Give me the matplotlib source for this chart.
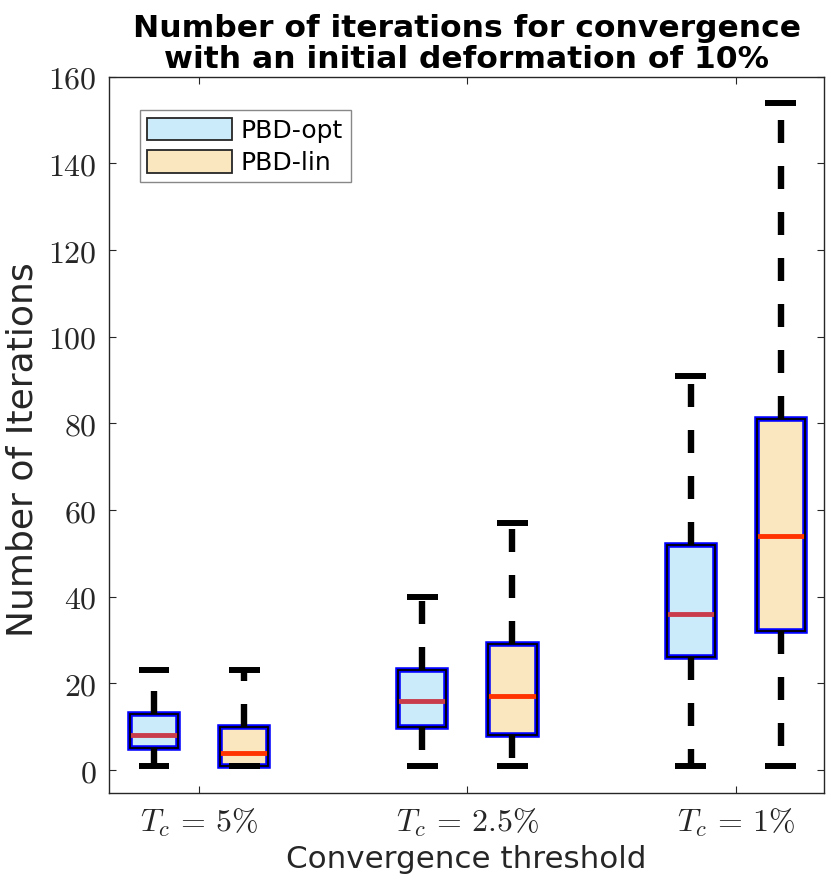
import matplotlib
matplotlib.use('Agg')
import matplotlib.pyplot as plt
from matplotlib.patches import Rectangle, Patch
from matplotlib.ticker import FuncFormatter

plt.rcParams['mathtext.fontset'] = 'cm'
plt.rcParams['font.family'] = ['DejaVu Sans']

group_labels = [r'$T_c \,=\, 5\%$', r'$T_c \,=\, 2.5\%$', r'$T_c \,=\, 1\%$']
method_names = ['PBD-opt', 'PBD-lin']

# PBD-opt: lower whisker, q1, median, q3, upper whisker per threshold
opt_low = [1, 1, 1]
opt_q1 = [5, 10, 26]
opt_med = [8, 16, 36]
opt_q3 = [13, 23, 52]
opt_high = [23, 40, 91]

# PBD-lin
lin_low = [1, 1, 1]
lin_q1 = [1, 8, 32]
lin_med = [4, 17, 54]
lin_q3 = [10, 29, 81]
lin_high = [23, 57, 154]

y_ticks = [0, 20, 40, 60, 80, 100, 120, 140, 160]

fill_colors = ['#CBEAFA', '#FAE6BF']
median_colors = ['#C83C4B', '#FF3300']
edge_blue = '#0000FF'
axis_gray = '#262626'

fig = plt.figure(figsize=(8.31, 8.93), dpi=100)
ax = fig.add_axes([0.131, 0.112, 0.861, 0.802])

groups = [1, 2, 3]
offset = 0.168
box_w = 0.18

series = [
    (opt_low, opt_q1, opt_med, opt_q3, opt_high),
    (lin_low, lin_q1, lin_med, lin_q3, lin_high),
]

for k, (lo, q1, med, q3, hi) in enumerate(series):
    pos = [g + (2 * k - 1) * offset for g in groups]
    stats = []
    for i in range(len(groups)):
        stats.append(dict(whislo=lo[i], q1=q1[i], med=med[i], q3=q3[i],
                          whishi=hi[i], fliers=[]))
    ax.bxp(stats, positions=pos, widths=box_w, capwidths=0.115,
           patch_artist=True, showfliers=False, manage_ticks=False,
           boxprops=dict(facecolor=fill_colors[k], edgecolor=edge_blue, linewidth=4),
           medianprops=dict(color=median_colors[k], linewidth=3.5, solid_capstyle='butt'),
           whiskerprops=dict(color='k', linewidth=4.6, linestyle=(0, (3.6, 3.6))),
           capprops=dict(color='k', linewidth=4.3, solid_capstyle='butt'))
    # thin black outline on top of the blue edge
    for i in range(len(groups)):
        ax.add_patch(Rectangle((pos[i] - box_w / 2, q1[i]), box_w, q3[i] - q1[i],
                               facecolor='none', edgecolor='k', linewidth=1.3, zorder=2.5))

ax.set_xlim(0.664, 3.33)
ax.set_ylim(-5.3, 160)
ax.set_xticks(groups)
ax.set_xticklabels(group_labels, fontsize=23)
ax.set_yticks(y_ticks)
ax.yaxis.set_major_formatter(FuncFormatter(lambda v, p: r'$%d$' % v))
ax.tick_params(axis='y', labelsize=23, pad=9)
ax.tick_params(axis='x', pad=10)
ax.tick_params(direction='in', length=5, width=0.8, color=axis_gray,
               labelcolor=axis_gray, top=True, right=True)
for s in ax.spines.values():
    s.set_color(axis_gray)
    s.set_linewidth(1.0)

ax.set_ylabel('Number of Iterations', fontsize=26, color=axis_gray)
ax.yaxis.set_label_coords(-0.0965, 0.479)
ax.set_xlabel('Convergence threshold', fontsize=22.3, color=axis_gray, labelpad=4)
ax.set_title('Number of iterations for convergence\nwith an initial deformation of 10%',
             fontsize=22.6, fontweight='bold', pad=6, linespacing=1.1)

handles = [Patch(facecolor=fill_colors[j], edgecolor=axis_gray, linewidth=1.3,
                 label=method_names[j]) for j in range(2)]
ax.legend(handles=handles, loc='upper left', bbox_to_anchor=(0.043, 0.953),
          fontsize=18, handlelength=3.4, handleheight=1.0, labelspacing=0.3,
          handletextpad=0.35, borderpad=0.3, borderaxespad=0, fancybox=False,
          edgecolor='#888888', framealpha=1)

fig.savefig('out.png', dpi=100)
